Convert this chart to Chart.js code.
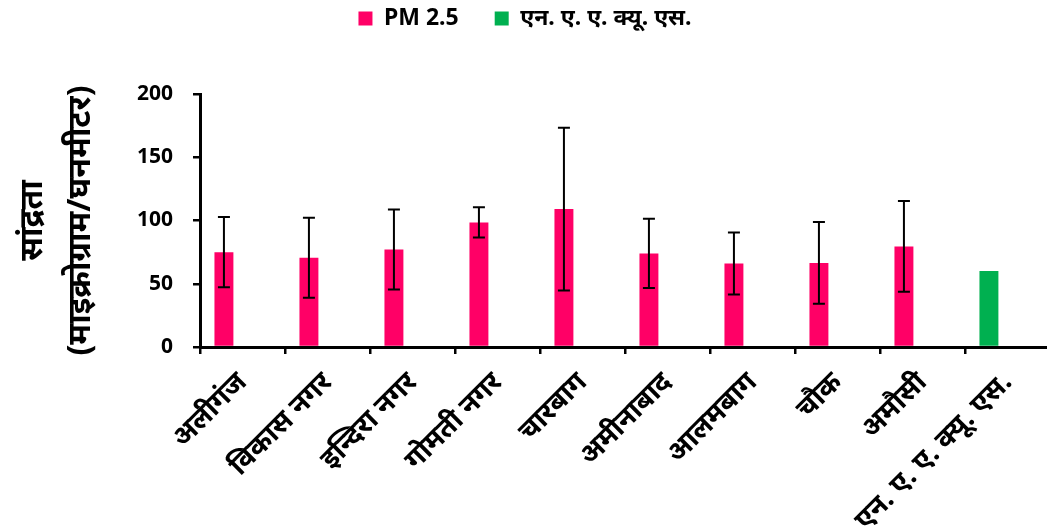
<!DOCTYPE html>
<html>
<head>
<meta charset="utf-8">
<script src="https://cdn.jsdelivr.net/npm/chart.js@4.4.1/dist/chart.umd.min.js"></script>
<style>
html,body{margin:0;padding:0;background:#fff;overflow:hidden;}
#wrap{width:1050px;height:531px;position:relative;}
</style>
</head>
<body>
<div id="wrap"><canvas id="c"></canvas></div>
<script>
const categories = ["अलीगंज","विकास नगर","इन्दिरा नगर","गोमती नगर","चारबाग","अमीनाबाद","आलमबाग","चौक","अमौसी","एन. ए. ए. क्यू. एस."];
const pm25 = [75, 70.5, 77, 98.5, 109, 74, 66, 66.5, 79.5, null];
const pm25Err = [27.7, 31.6, 31.6, 12, 64.3, 27.4, 24.5, 32.4, 35.9, null];
const naaqs = [null, null, null, null, null, null, null, null, null, 60];
const yTicks = [0, 50, 100, 150, 200];
const seriesNames = ["PM 2.5", "एन. ए. ए. क्यू. एस."];
const yTitleLines = ["सांद्रता", "(माइक्रोग्राम/घनमीटर)"];

const FONT = "'Noto Sans', 'DejaVu Sans', sans-serif";

const errorBars = {
  id: 'errorBars',
  afterDatasetsDraw(chart) {
    const ctx = chart.ctx;
    const meta = chart.getDatasetMeta(0);
    const y = chart.scales.y;
    ctx.save();
    ctx.strokeStyle = '#000';
    ctx.lineWidth = 2;
    meta.data.forEach((bar, i) => {
      if (pm25[i] == null || pm25Err[i] == null) return;
      const x = bar.x;
      const top = y.getPixelForValue(pm25[i] + pm25Err[i]);
      const bot = y.getPixelForValue(pm25[i] - pm25Err[i]);
      ctx.beginPath();
      ctx.moveTo(x, top); ctx.lineTo(x, bot);
      ctx.moveTo(x - 6, top); ctx.lineTo(x + 6, top);
      ctx.moveTo(x - 6, bot); ctx.lineTo(x + 6, bot);
      ctx.stroke();
    });
    ctx.restore();
  }
};

const LEGEND_TOP = -29;
const legendHeight = {
  id: 'legendHeight',
  beforeInit(chart) {
    const fit = chart.legend.fit;
    chart.legend.fit = function () { fit.call(this); this.height = 94 - LEGEND_TOP; };
  }
};

new Chart(document.getElementById('c'), {
  type: 'bar',
  data: {
    labels: categories,
    datasets: [
      {label: seriesNames[0], data: pm25, backgroundColor: '#FF0066', stack: 'a'},
      {label: seriesNames[1], data: naaqs, backgroundColor: '#00B050', stack: 'a'},
      {label: '_spacer', data: categories.map(() => null), backgroundColor: 'rgba(0,0,0,0)', stack: 'b'}
    ]
  },
  options: {
    responsive: true,
    maintainAspectRatio: false,
    animation: false,
    categoryPercentage: 0.874,
    barPercentage: 0.51,
    layout: {padding: {top: LEGEND_TOP, left: 0, right: 0, bottom: 0}},
    plugins: {
      legend: {
        position: 'top',
        labels: {
          filter: (item) => item.text !== '_spacer',
          boxWidth: 14, boxHeight: 14,
          color: '#000',
          font: {family: FONT, size: 23, weight: 'bold'},
          padding: 36
        }
      },
      tooltip: {enabled: false}
    },
    scales: {
      x: {
        afterFit: (s) => { s.height = 184; },
        grid: {display: true, drawOnChartArea: false, color: '#000', lineWidth: 2.5, tickLength: 7, offset: true},
        border: {color: '#000', width: 3},
        ticks: {color: '#000', maxRotation: 45, minRotation: 45, autoSkip: false, padding: 12, font: {family: FONT, size: 28, weight: 'bold'}}
      },
      y: {
        min: 0, max: 200,
        afterFit: (s) => { s.width = 200; },
        afterBuildTicks: (s) => { s.ticks = yTicks.map(v => ({value: v})); },
        grid: {display: true, drawOnChartArea: false, color: '#000', lineWidth: 2.5, tickLength: 7},
        border: {color: '#000', width: 3},
        ticks: {color: '#000', padding: 20, font: {family: FONT, size: 21, weight: 'bold'}},
        title: {display: true, text: yTitleLines, color: '#000', font: {family: FONT, size: 32, weight: 'bold', lineHeight: 1.5}, padding: {top: 9, bottom: 0}}
      }
    }
  },
  plugins: [errorBars, legendHeight]
});
</script>
</body>
</html>
